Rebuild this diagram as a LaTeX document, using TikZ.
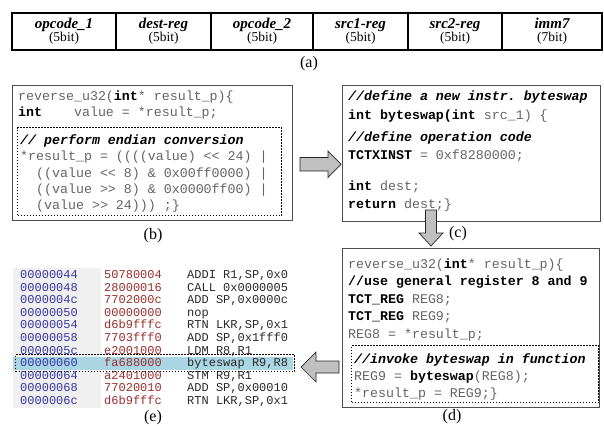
\documentclass[tikz,border=0pt]{standalone}
\usepackage{fontspec}
\setmainfont{Liberation Serif}
\setmonofont{Liberation Mono}
\usetikzlibrary{positioning}
\definecolor{codegray}{RGB}{100,100,100}
\definecolor{addrblue}{RGB}{55,55,165}
\definecolor{hexred}{RGB}{155,45,45}
\definecolor{insgray}{RGB}{40,40,40}
\definecolor{listbg}{RGB}{240,240,240}
\definecolor{hiblue}{RGB}{170,214,228}
\definecolor{arrowgray}{RGB}{192,192,192}
\newcommand{\kw}[1]{\textcolor{black}{\textbf{#1}}}
\newcommand{\cmt}[1]{\textcolor{black}{\textbf{\textit{#1}}}}
\newcommand{\fname}[1]{{\fontsize{15}{13}\selectfont\bfseries\itshape #1}}
\tikzset{
  cell/.style={draw, line width=1.2pt, minimum height=37pt, inner sep=0pt,
               align=center, font=\fontsize{13.5}{13}\selectfont},
  caption/.style={inner sep=0pt, font=\fontsize{16}{16}\selectfont},
  panel/.style={draw=black!70, line width=1.2pt, inner sep=0pt, anchor=north west},
  inset/.style={draw, line width=1.1pt, dash pattern=on 1.6pt off 1.4pt,
                inner sep=0pt, anchor=north west},
  code/.style={anchor=base west, inner sep=0pt, text=codegray,
               font=\fontsize{13.3}{15}\selectfont\ttfamily},
  listing/.style={anchor=base west, inner sep=0pt,
                  font=\fontsize{12}{12}\selectfont\ttfamily},
  fatarrow/.style={draw=black!85, fill=arrowgray, line width=0.7pt, line join=miter},
}

\begin{document}
\begin{tikzpicture}[x=1pt, y=-1pt]
  \useasboundingbox (0,0) rectangle (604,425);

  % (a) instruction format
  \node[cell, minimum width=104pt] (op1)  at (64,31.5)    {\fname{opcode\_1}\\(5bit)};
  \node[cell, minimum width=95pt]  (dst)  at (163.5,31.5) {\fname{dest-reg}\\(5bit)};
  \node[cell, minimum width=102pt] (op2)  at (262,31.5)   {\fname{opcode\_2}\\(5bit)};
  \node[cell, minimum width=95pt]  (src1) at (360.5,31.5) {\fname{src1-reg}\\(5bit)};
  \node[cell, minimum width=94pt]  (src2) at (455,31.5)   {\fname{src2-reg}\\(5bit)};
  \node[cell, minimum width=100pt] (imm)  at (552,31.5)   {\fname{imm7}\\(7bit)};
  \node[caption] (lbla) at (309,64) {(a)};

  % (b) original C code
  \node[panel, minimum width=280pt, minimum height=135pt] (b) at (12,85) {};
  \node[code] (b1) at (18,100) {reverse\_u32(\kw{int}* result\_p)\{};
  \node[code] (b2) at (18,116) {\kw{int}~~~~value = *result\_p;};
  \node[inset, minimum width=264pt, minimum height=88pt] (bin) at (17,127) {};
  \node[code] (b3) at (20,144) {\cmt{// perform endian conversion}};
  \node[code] (b4) at (20,160) {*result\_p = ((((value) << 24) |};
  \node[code] (b5) at (20,177) {~~((value << 8) \& 0x00ff0000) |};
  \node[code] (b6) at (20,193) {~~((value >> 8) \& 0x0000ff00) |};
  \node[code] (b7) at (20,209) {~~(value >> 24))) ;\}};
  \node[caption] (lblb) at (153,236) {(b)};

  % (c) new instruction
  \node[panel, minimum width=258pt, minimum height=136pt] (c) at (342,85) {};
  \node[code] (c1) at (348,101) {\cmt{//define a new instr. byteswap}};
  \node[code] (c2) at (348,119) {\kw{int byteswap(int} src\_1) \{};
  \node[code] (c3) at (348,141) {\cmt{//define operation code}};
  \node[code] (c4) at (348,159) {\kw{TCTXINST} = 0xf8280000;};
  \node[code] (c5) at (348,190) {\kw{int} dest;};
  \node[code] (c6) at (348,208) {\kw{return} dest;\}};
  \node[caption] (lblc) at (458,234) {(c)};

  % (d) rewritten function
  \node[panel, minimum width=257pt, minimum height=159pt] (d) at (342,248) {};
  \node[code] (d1) at (348,268)   {reverse\_u32(\kw{int}* result\_p)\{};
  \node[code] (d2) at (348,285.5) {\kw{//use general register 8 and 9}};
  \node[code] (d3) at (348,303)   {\kw{TCT\_REG} REG8;};
  \node[code] (d4) at (348,320.5) {\kw{TCT\_REG} REG9;};
  \node[code] (d5) at (348,338)   {REG8 = *result\_p;};
  \node[inset, minimum width=247pt, minimum height=57pt] (din) at (351,345) {};
  \node[code] (d6) at (354,363.5) {\cmt{//invoke byteswap in function}};
  \node[code] (d7) at (354,380.5) {REG9 = \kw{byteswap}(REG8);};
  \node[code] (d8) at (354,397.5) {*result\_p = REG9;\}};
  \node[caption] (lbld) at (452,417) {(d)};

  % (e) disassembly
  \fill[listbg] (13,268) rectangle (101,408);
  \fill[hiblue] (13,357) rectangle (293,370);
  \foreach \addr/\hex/\ins [count=\i from 0] in {
      00000044/50780004/{ADDI R1,SP,0x0}, 00000048/28000016/{CALL 0x0000005},
      0000004c/7702000c/{ADD SP,0x0000c}, 00000050/00000000/nop,
      00000054/d6b9fffc/{RTN LKR,SP,0x1}, 00000058/7703fff0/{ADD SP,0x1fff0},
      0000005c/e2001000/{LDM R8,R1}, 00000060/fa688000/{byteswap R9,R8},
      00000064/a2401000/{STM R9,R1}, 00000068/77020010/{ADD SP,0x00010},
      0000006c/d6b9fffc/{RTN LKR,SP,0x1}}
  {
    \node[listing, text=addrblue] (e\i)  at (20,{278.5+12.6*\i})  {\addr};
    \node[listing, text=hexred]   (h\i)  at (104,{278.5+12.6*\i}) {\hex};
    \node[listing, text=insgray]  (n\i)  at (187,{278.5+12.6*\i}) {\ins};
  }
  \node[inset, minimum width=279pt, minimum height=17pt] (hit) at (15,354) {};
  \node[caption] (lble) at (153,418) {(e)};

  % block arrows
  \draw[fatarrow] (300,157.5) -- ++(28,0) -- ++(0,-6.5) -- ++(13,13.25)
                  -- ++(-13,13.25) -- ++(0,-6.5) -- ++(-28,0) -- cycle;
  \draw[fatarrow] (425.5,210) -- ++(0,23) -- ++(-6.5,0) -- ++(12,13)
                  -- ++(12,-13) -- ++(-6.5,0) -- ++(0,-23) -- cycle;
  \draw[fatarrow] (339,361) -- ++(-23,0) -- ++(0,-9) -- ++(-15,15)
                  -- ++(15,15) -- ++(0,-9) -- ++(23,0) -- cycle;
\end{tikzpicture}
\end{document}
